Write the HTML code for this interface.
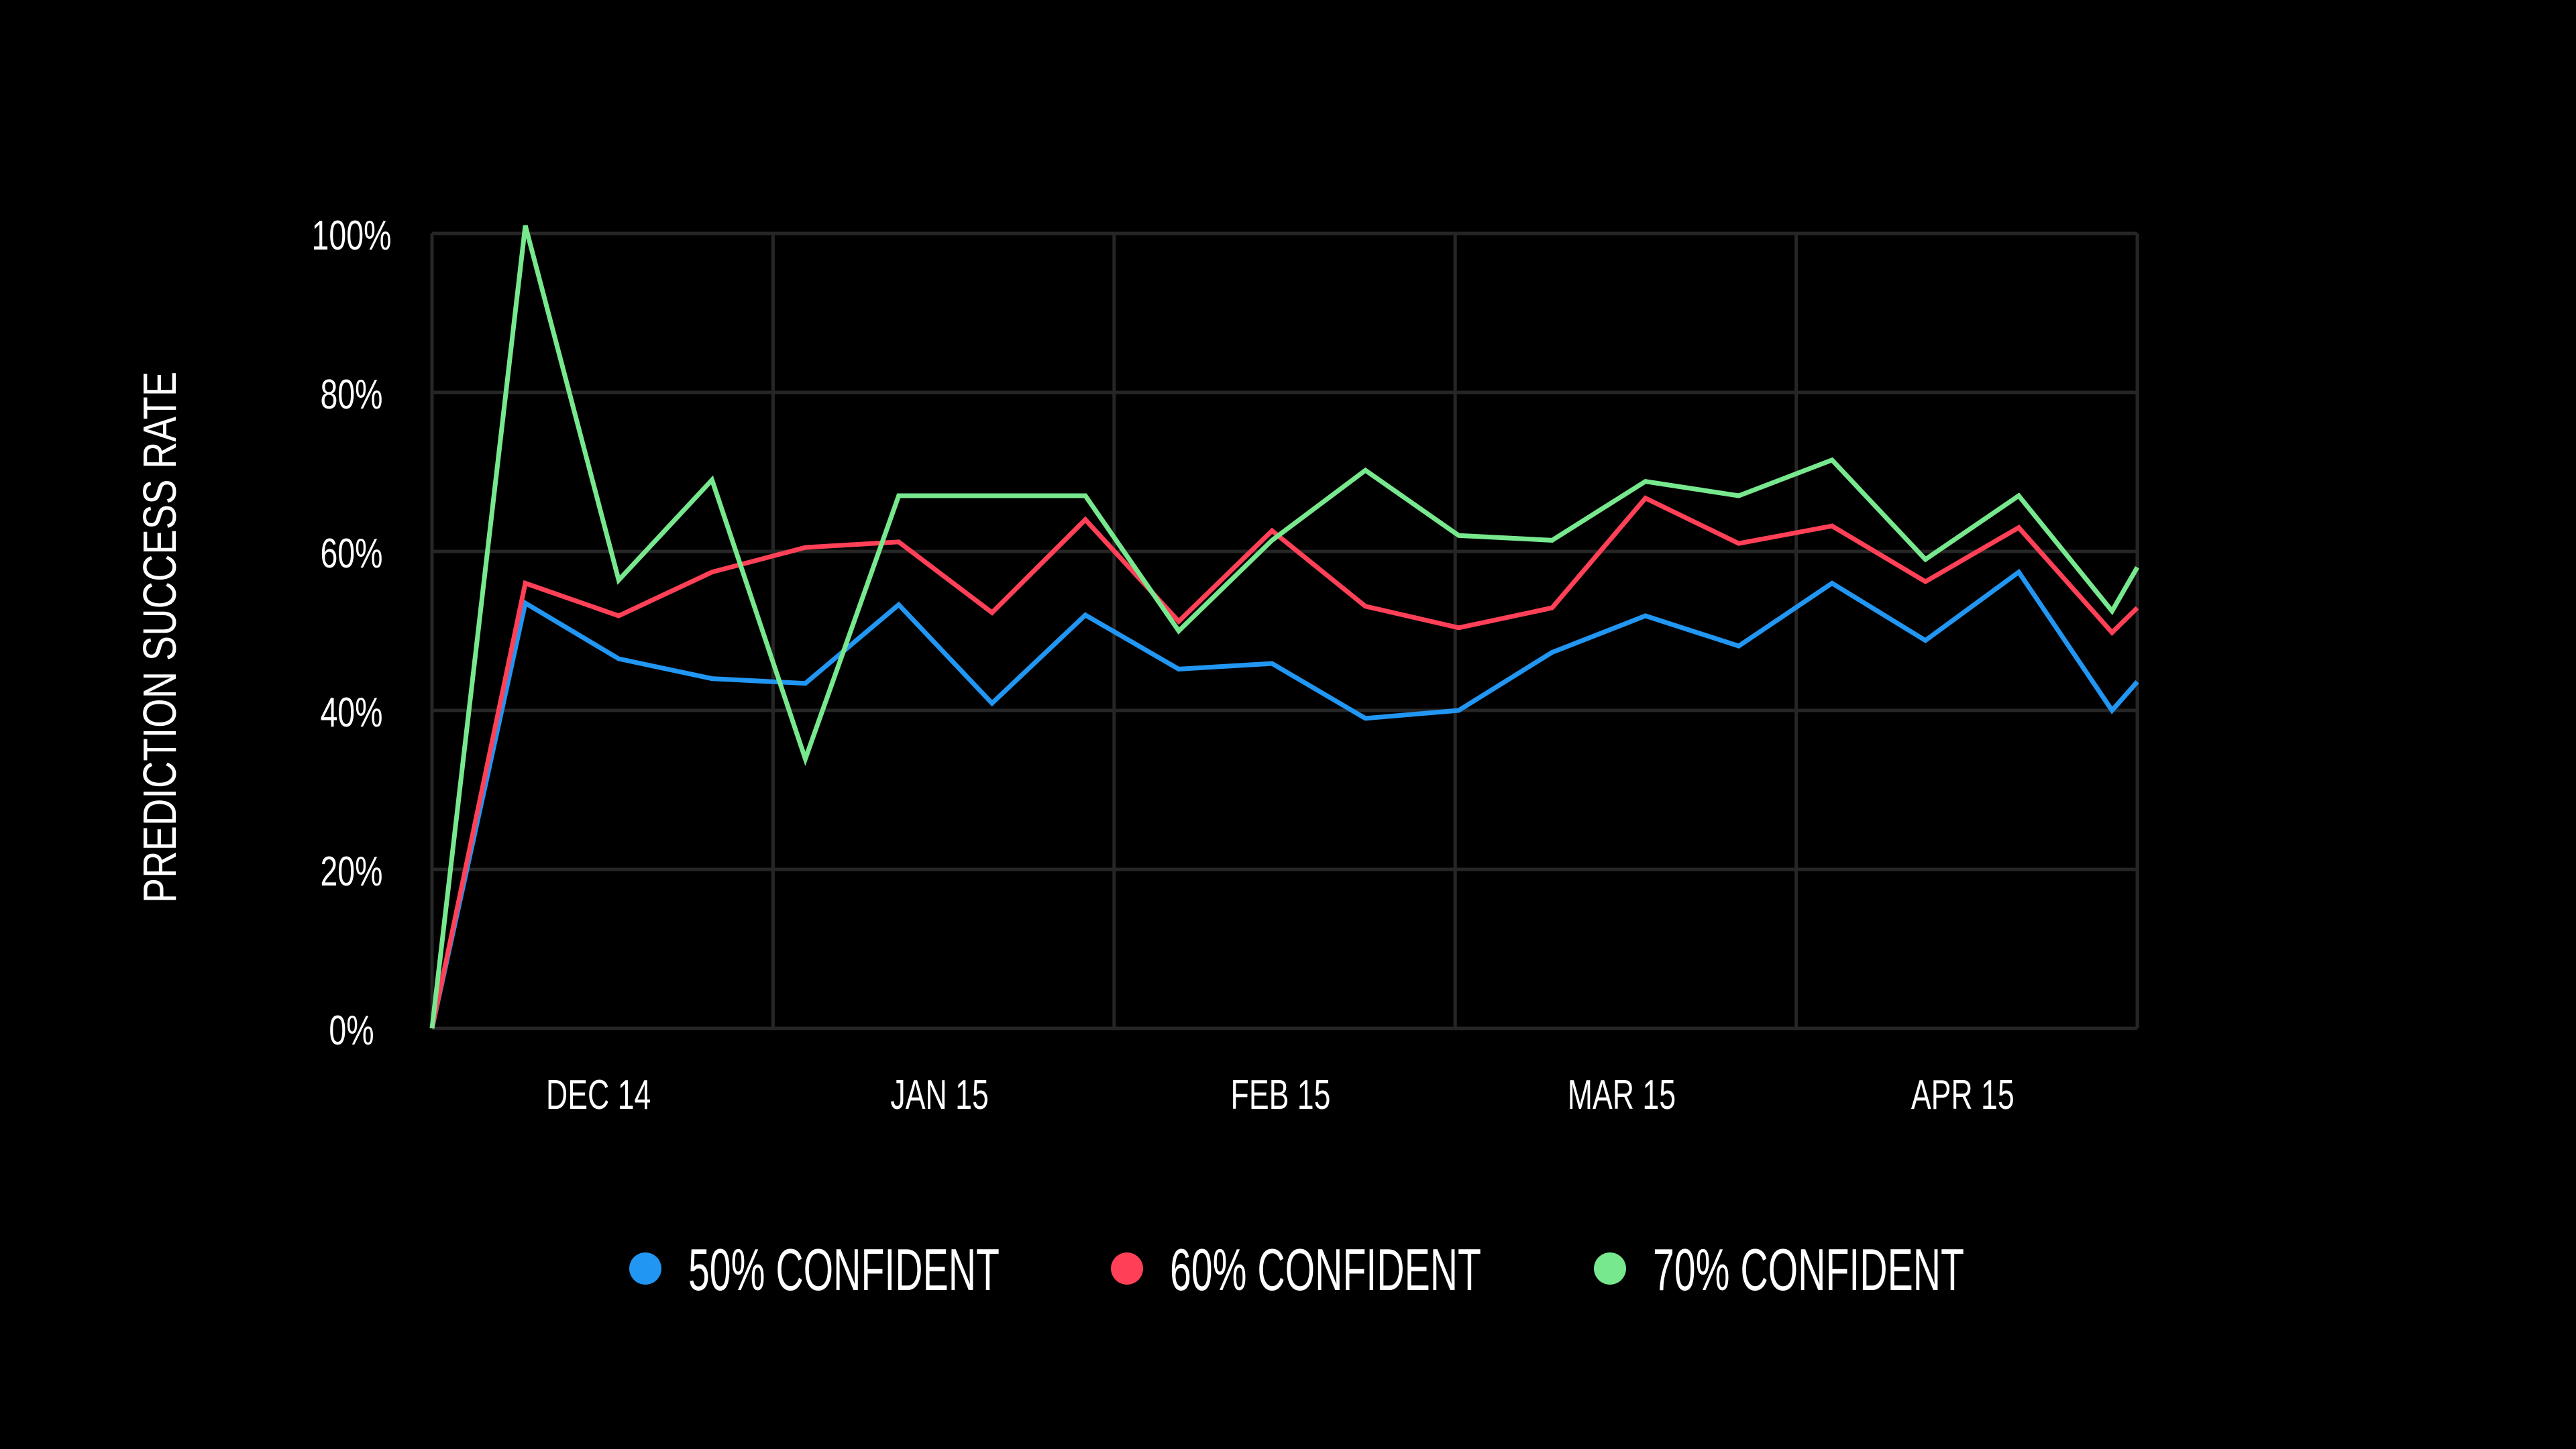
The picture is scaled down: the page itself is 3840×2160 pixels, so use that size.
<!DOCTYPE html>
<html><head><meta charset="utf-8"><style>
html,body{margin:0;padding:0;background:#000;width:3840px;height:2160px;overflow:hidden}
svg{display:block}
text{font-family:"Liberation Sans Narrow","Liberation Sans",sans-serif;fill:#fff;font-weight:normal}
</style></head><body>
<svg id="chart" width="3840" height="2160" viewBox="0 0 3840 2160" xmlns="http://www.w3.org/2000/svg">
<g id="grid"></g>
<g id="yticks"></g>
<g id="xticks"></g>
<g id="series"></g>
<text id="ytitle" x="0" y="0" font-size="70" text-anchor="middle" transform="translate(262,950) rotate(-90)">PREDICTION SUCCESS RATE</text>
<g id="legend"></g>
</svg>
<script>
const xIdx = [0,1,2,3,4,5,6,7,8,9,10,11,12,13,14,15,16,17,18,18.27];
const s50 = [0,53.5,46.5,44,43.4,53.3,40.9,52,45.2,45.9,39,40,47.3,51.9,48.1,56,48.8,57.4,40,43.6];
const s60 = [0,56,51.9,57.4,60.5,61.2,52.3,64,51.2,62.6,53.1,50.4,52.9,66.7,61,63.2,56.2,63,49.8,52.9];
const s70 = [0,101,56.4,69,33.9,67,67,67,50,61.4,70.2,62,61.4,68.8,67,71.5,59,67,52.5,58];
const yTicks = [0,20,40,60,80,100];
const yTickLabels = ["0%","20%","40%","60%","80%","100%"];
const xLabels = ["DEC 14","JAN 15","FEB 15","MAR 15","APR 15"];
const seriesNames = ["50% CONFIDENT","60% CONFIDENT","70% CONFIDENT"];
const seriesColors = ["#2196f3","#ff4057","#77e88e"];

const L=644,R=3186,T=348,B=1533;
const xMax=18.27;
const X=v=>L+(R-L)*v/xMax;
const Y=v=>B-(B-T)*v/100;
const NS="http://www.w3.org/2000/svg";
function mk(tag,parent,attrs){const e=document.createElementNS(NS,tag);for(const k in attrs)e.setAttribute(k,attrs[k]);parent.appendChild(e);return e;}
function squeeze(el,f){const w=el.getComputedTextLength();el.setAttribute('textLength',(w*f).toFixed(1));el.setAttribute('lengthAdjust','spacingAndGlyphs');}
const grid=document.getElementById('grid');
yTicks.forEach((t,i)=>{
  const ln=mk('line',grid,{x1:L,x2:R,y1:Y(t),y2:Y(t),stroke:'#262626','stroke-width':5});
  
  
  const tx=mk('text',document.getElementById('yticks'),{x:524,y:Y(t)+24,'font-size':62,'text-anchor':'middle'});
  tx.textContent=yTickLabels[i];
  
  
  squeeze(tx,0.75);
});
const colW=(R-L)/xLabels.length;
for(let i=0;i<=xLabels.length;i++){
  const x=L+colW*i;
  const ln=mk('line',grid,{x1:x,x2:x,y1:T,y2:B,stroke:'#262626','stroke-width':5});
  
  
}
xLabels.forEach((lab,i)=>{
  const tx=mk('text',document.getElementById('xticks'),{x:L+colW*(i+0.5)-6,y:1653,'font-size':62,'text-anchor':'middle'});
  tx.textContent=lab;
  
  
  squeeze(tx,0.72);
});
[s50,s60,s70].forEach((s,k)=>{
  const pts=s.map((v,i)=>X(xIdx[i]).toFixed(1)+','+Y(v).toFixed(1)).join(' ');
  const pl=mk('polyline',document.getElementById('series'),{points:pts,fill:'none',stroke:seriesColors[k],'stroke-width':7,'stroke-linejoin':'miter'});
  
  
});
const lx=[962,1680,2400];
seriesNames.forEach((n,k)=>{
  const g=mk('g',document.getElementById('legend'),{});
  
  
  mk('circle',g,{cx:lx[k],cy:1891,r:24,fill:seriesColors[k]});
  const tx=mk('text',g,{x:lx[k]+64,y:1923,'font-size':88});
  tx.textContent=n;
  squeeze(tx,0.65);
});
squeeze(document.getElementById('ytitle'),0.8);
</script>
</body></html>
